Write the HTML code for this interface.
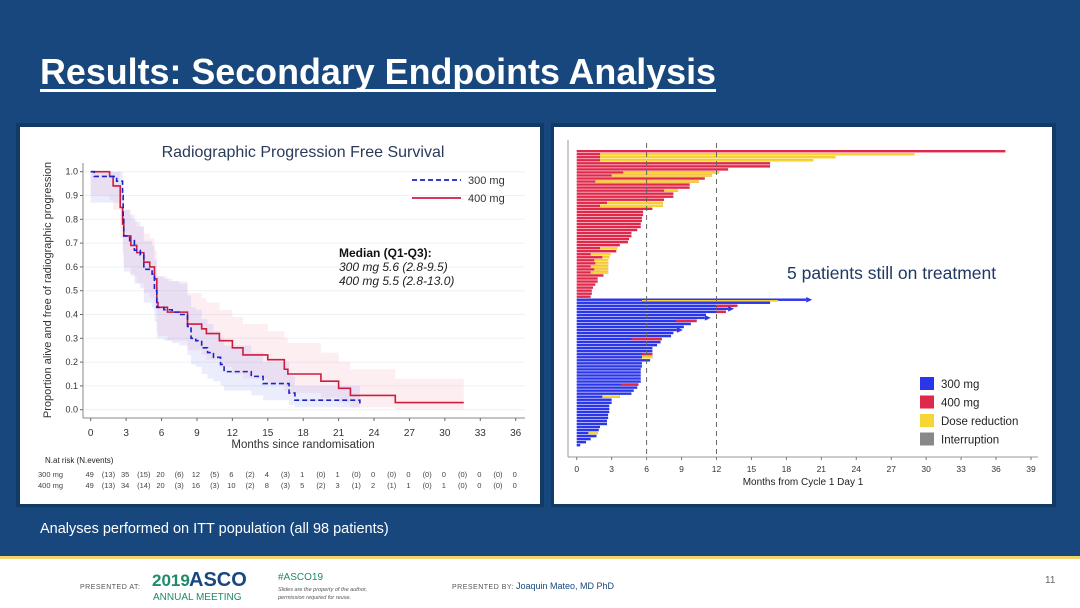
<!DOCTYPE html>
<html><head><meta charset="utf-8"><style>
html,body{margin:0;padding:0;width:1080px;height:608px;overflow:hidden;background:#fff}
svg{display:block;font-family:"Liberation Sans",sans-serif}
</style></head><body>
<svg id="s" width="1080" height="608" viewBox="0 0 1080 608">
<rect x="0" y="0" width="1080" height="556" fill="#17477c"/>
<rect x="0" y="556" width="1080" height="3" fill="#f3d36b"/>
<text x="40" y="84" fill="#fff" font-size="36" font-weight="bold" textLength="676" lengthAdjust="spacingAndGlyphs">Results: Secondary Endpoints Analysis</text>
<rect x="40" y="89" width="676" height="3" fill="#fff"/>
<rect x="16" y="123" width="528" height="384" fill="#123a66"/>
<rect x="20" y="127" width="520" height="377" fill="#fff"/>
<rect x="551" y="123" width="505" height="384" fill="#123a66"/>
<rect x="554" y="127" width="498" height="377" fill="#fff"/>
<g id="km"></g>
<g id="sw"></g>
<text x="40" y="533" fill="#fff" font-size="14.5">Analyses performed on ITT population (all 98 patients)</text>
<g>
<text x="80" y="589" font-size="7" fill="#555" letter-spacing="0.5">PRESENTED AT:</text>
<text x="152" y="586" font-size="17" font-weight="bold" fill="#1f8a6a">2019</text>
<text x="189" y="586" font-size="20" font-weight="bold" fill="#17477c">ASCO</text>
<text x="153" y="600" font-size="10" fill="#1f8a6a">ANNUAL MEETING</text>
<text x="278" y="580" font-size="10" fill="#1f8a6a">#ASCO19</text>
<text x="278" y="591" font-size="5.5" font-style="italic" fill="#555">Slides are the property of the author,</text>
<text x="278" y="599" font-size="5.5" font-style="italic" fill="#555">permission required for reuse.</text>
<text x="452" y="589" font-size="7" fill="#555" letter-spacing="0.5">PRESENTED BY:</text>
<text x="516" y="589" font-size="9" fill="#17477c">Joaquin Mateo, MD PhD</text>
<text x="1045" y="583" font-size="10" fill="#666">11</text>
</g>
</svg>
<script>
// ---------- KM data ----------
const kmXTicks = [0,3,6,9,12,15,18,21,24,27,30,33,36];
const kmYTicks = [0,0.1,0.2,0.3,0.4,0.5,0.6,0.7,0.8,0.9,1.0];
const t300 = [0,0.3,2.2,2.7,2.75,2.8,3.3,3.7,4.2,4.5,5.2,5.4,5.6,6.2,6.9,7.5,8.2,8.5,8.9,9.4,9.9,10.4,11.0,11.3,13.6,14.6,16.8,17.3,22.8];
const s300 = [1.0,0.98,0.96,0.9,0.8,0.73,0.71,0.67,0.65,0.59,0.57,0.5,0.43,0.42,0.41,0.4,0.35,0.3,0.29,0.26,0.24,0.22,0.19,0.16,0.14,0.11,0.07,0.04,0.02];
const lo300 = [0.87,0.87,0.87,0.78,0.66,0.58,0.57,0.53,0.51,0.45,0.43,0.37,0.3,0.29,0.28,0.27,0.23,0.19,0.18,0.15,0.13,0.12,0.1,0.08,0.06,0.04,0.02,0.01,0.01];
const hi300 = [1.0,1.0,1.0,0.97,0.9,0.84,0.82,0.79,0.77,0.71,0.69,0.63,0.56,0.55,0.54,0.53,0.48,0.43,0.42,0.38,0.36,0.33,0.3,0.27,0.24,0.2,0.14,0.1,0.1];
const t400 = [0,1.6,1.9,2.5,2.7,2.8,3.4,3.9,4.5,5.0,5.4,5.6,5.7,6.5,8.2,9.4,9.8,10.9,12.0,12.9,15.0,16.4,16.7,19.5,21.0,22.0,25.8,31.6];
const s400 = [1.0,0.98,0.94,0.85,0.78,0.73,0.69,0.66,0.62,0.6,0.55,0.45,0.43,0.41,0.36,0.34,0.32,0.29,0.26,0.23,0.21,0.17,0.15,0.12,0.09,0.06,0.03,0.03];
const lo400 = [0.9,0.88,0.84,0.72,0.65,0.6,0.56,0.53,0.49,0.47,0.42,0.33,0.31,0.29,0.25,0.23,0.21,0.18,0.15,0.13,0.11,0.08,0.07,0.05,0.03,0.01,0.0,0.0];
const hi400 = [1.0,1.0,1.0,0.93,0.88,0.84,0.8,0.77,0.74,0.72,0.67,0.58,0.56,0.54,0.49,0.47,0.45,0.42,0.39,0.36,0.33,0.3,0.28,0.24,0.2,0.17,0.13,0.13];
const risk300 = ["49","(13)","35","(15)","20","(6)","12","(5)","6","(2)","4","(3)","1","(0)","1","(0)","0","(0)","0","(0)","0","(0)","0","(0)","0"];
const risk400 = ["49","(13)","34","(14)","20","(3)","16","(3)","10","(2)","8","(3)","5","(2)","3","(1)","2","(1)","1","(0)","1","(0)","0","(0)","0"];

// ---------- swimmer data ----------
const swTicks = [0,3,6,9,12,15,18,21,24,27,30,33,36,39];
const red400 = [36.8,29,22.2,20.3,16.6,16.6,13,12.2,11.6,11,10.5,9.7,9.7,8.7,8.3,8.3,7.5,7.4,7.4,6.5,5.7,5.7,5.6,5.6,5.5,5.5,5.2,4.7,4.7,4.5,4.4,3.7,3.5,3.4,2.9,2.8,2.7,2.7,2.7,2.7,2.7,2.3,1.8,1.8,1.6,1.4,1.3,1.3,1.2];
const red400Dose = [null,2,2,2,null,null,null,4,3,null,1.6,null,null,7.5,null,null,null,2.6,2,null,null,null,null,null,null,null,null,null,null,null,null,null,2,null,1.2,2.2,1.5,1.6,1.2,1.5,1.2,null,null,null,null,null,null,null,null];
const blue300 = [19.7,16.6,13.8,13,12.8,11.1,11,10.3,9.8,9.2,8.6,8.3,8.1,7.3,7.2,6.9,6.5,6.5,6.5,6.5,6.3,5.6,5.6,5.5,5.5,5.5,5.5,5.5,5.3,5.2,4.9,4.7,3.7,3.0,3.0,2.8,2.8,2.8,2.7,2.7,2.6,2.6,2.0,1.9,1.8,1.7,1.2,0.8,0.3];
const blue300Dose = [5.6,null,null,null,null,null,null,null,null,null,null,null,null,null,null,null,null,null,null,5.6,null,null,null,null,null,null,null,null,null,null,null,null,2.2,null,null,null,null,null,null,null,null,null,null,null,1.0,null,null,null,null];
const blue300Esc = [null,null,12,null,12,null,null,8.5,null,null,null,null,null,4.7,null,null,null,null,5.6,null,null,null,null,null,null,null,null,null,3.8,null,null,null,null,null,null,null,null,null,null,null,null,null,null,null,null,null,null,null,null];
const ongoing300 = [true,false,false,true,false,false,true,false,false,false,true,false,false,false,false,false,false,false,false,false,false,false,false,false,false,false,false,false,false,false,false,false,false,false,false,false,false,false,false,false,false,false,false,false,false,false,false,false,false];

const NS='http://www.w3.org/2000/svg';
function mk(tag,attrs,parent,txt){const e=document.createElementNS(NS,tag);for(const k in attrs)e.setAttribute(k,attrs[k]);if(txt!==undefined)e.textContent=txt;parent.appendChild(e);return e;}

// ---------- KM chart ----------
const km=document.getElementById('km');
const kx=v=>90.7+v*(425/36);
const ky=v=>409.7-v*238;
let e;
e=mk('text',{x:303,y:157,'font-size':16,fill:'#2a3a5c','text-anchor':'middle'},km,'Radiographic Progression Free Survival');


kmYTicks.forEach(v=>{
  const g=mk('line',{x1:83,x2:525,y1:ky(v),y2:ky(v),stroke:'#eef0f4','stroke-width':1},km);
  
  
  const t=mk('text',{x:78,y:ky(v)+3,'font-size':9,fill:'#333','text-anchor':'end'},km,v.toFixed(1));
  
  
  mk('line',{x1:80,x2:83,y1:ky(v),y2:ky(v),stroke:'#666'},km);
});
e=mk('line',{x1:83,x2:83,y1:163,y2:418,stroke:'#888'},km);


e=mk('line',{x1:83,x2:525,y1:418,y2:418,stroke:'#888'},km);


kmXTicks.forEach(v=>{
  mk('line',{x1:kx(v),x2:kx(v),y1:418,y2:421,stroke:'#666'},km);
  const t=mk('text',{x:kx(v),y:436,'font-size':10,fill:'#333','text-anchor':'middle'},km,String(v));
  
  
});
e=mk('text',{x:303,y:448,'font-size':11.5,fill:'#333','text-anchor':'middle'},km,'Months since randomisation');


e=mk('text',{x:0,y:0,'font-size':11,fill:'#333','text-anchor':'middle',transform:'translate(51,290) rotate(-90)'},km,'Proportion alive and free of radiographic progression');


function band(t,lo,hi,fill,name){
  let up='',dn='';
  for(let i=0;i<t.length;i++){const x1=kx(t[i]),x2=kx(i+1<t.length?t[i+1]:t[i]);up+=`L${x1},${ky(hi[i])}L${x2},${ky(hi[i])}`;}
  for(let i=t.length-1;i>=0;i--){const x1=kx(t[i]),x2=kx(i+1<t.length?t[i+1]:t[i]);dn+=`L${x2},${ky(lo[i])}L${x1},${ky(lo[i])}`;}
  const p=mk('path',{d:'M'+up.slice(1)+dn+'Z',fill:fill},km);
  
  
}
band(t400,lo400,hi400,'rgba(240,150,175,0.16)','ci-band-400mg');
band(t300,lo300,hi300,'rgba(130,140,240,0.16)','ci-band-300mg');
function step(t,s){let d=`M${kx(t[0])},${ky(s[0])}`;for(let i=1;i<t.length;i++){d+=`H${kx(t[i])}V${ky(s[i])}`;}return d;}
e=mk('path',{d:step(t400,s400),fill:'none',stroke:'#d01c3c','stroke-width':1.6},km);


e=mk('path',{d:step(t300,s300),fill:'none',stroke:'#1c22c8','stroke-width':1.6,'stroke-dasharray':'5,3'},km);


e=mk('line',{x1:412,x2:461,y1:180,y2:180,stroke:'#1c22c8','stroke-width':1.8,'stroke-dasharray':'5,3'},km);


e=mk('text',{x:468,y:184,'font-size':11,fill:'#333'},km,'300 mg');


e=mk('line',{x1:412,x2:461,y1:198,y2:198,stroke:'#d01c3c','stroke-width':1.8},km);


e=mk('text',{x:468,y:202,'font-size':11,fill:'#333'},km,'400 mg');


e=mk('text',{x:339,y:257,'font-size':12,'font-weight':'bold',fill:'#111'},km,'Median (Q1-Q3):');


e=mk('text',{x:339,y:271,'font-size':12,'font-style':'italic',fill:'#222'},km,'300 mg 5.6 (2.8-9.5)');


e=mk('text',{x:339,y:285,'font-size':12,'font-style':'italic',fill:'#222'},km,'400 mg 5.5 (2.8-13.0)');


e=mk('text',{x:45,y:463,'font-size':8,fill:'#222'},km,'N.at risk (N.events)');


[[risk300,'300 mg',477],[risk400,'400 mg',488]].forEach(([arr,lab,y])=>{
  const l=mk('text',{x:38,y:y,'font-size':7.5,fill:'#444'},km,lab);
  
  
  arr.forEach((v,i)=>{
    const t=mk('text',{x:kx(i*1.5)+(i%2?0:-1),y:y,'font-size':7.5,fill:'#444','text-anchor':'middle'},km,v);
    
    
  });
});

// ---------- swimmer chart ----------
const sw=document.getElementById('sw');
const sx=v=>576.7+v*(454.3/39);
const rowH=297/98;
const rowY=i=>150+i*rowH;
const C={b:'#2b36e8',r:'#e0284a',y:'#f7d532',g:'#888'};
e=mk('line',{x1:568,x2:568,y1:140,y2:457,stroke:'#999'},sw);


e=mk('line',{x1:568,x2:1038,y1:457,y2:457,stroke:'#999'},sw);


swTicks.forEach(v=>{
  mk('line',{x1:sx(v),x2:sx(v),y1:457,y2:460,stroke:'#777'},sw);
  const t=mk('text',{x:sx(v),y:472,'font-size':8.5,fill:'#333','text-anchor':'middle'},sw,String(v));
  
  
});
e=mk('text',{x:803,y:485,'font-size':10,fill:'#222','text-anchor':'middle'},sw,'Months from Cycle 1 Day 1');


red400.forEach((v,i)=>{
  const y=rowY(i);
  const b=mk('rect',{x:sx(0),y:y,width:sx(v)-sx(0),height:rowH-0.6,fill:C.r},sw);
  
  
  if(red400Dose[i]!=null){
    const d=mk('rect',{x:sx(red400Dose[i]),y:y,width:sx(v)-sx(red400Dose[i]),height:rowH-0.6,fill:C.y},sw);
    
    
  }
});
blue300.forEach((v,i)=>{
  const y=rowY(49+i);
  const b=mk('rect',{x:sx(0),y:y,width:sx(v)-sx(0),height:rowH-0.6,fill:C.b},sw);
  
  
  if(blue300Dose[i]!=null){
    const end=i===0?17.3:v;
    const d=mk('rect',{x:sx(blue300Dose[i]),y:y+(i===0?rowH*0.5:0),width:sx(end)-sx(blue300Dose[i]),height:(i===0?rowH*0.6:rowH-0.6),fill:C.y},sw);
    
    
  }
  if(blue300Esc[i]!=null){
    const d=mk('rect',{x:sx(blue300Esc[i]),y:y,width:sx(v)-sx(blue300Esc[i]),height:rowH-0.6,fill:C.r},sw);
    
    
  }
  if(ongoing300[i]){
    const x=sx(v);
    const a=mk('path',{d:`M${x},${y-1.5}L${x+6},${y+1.2}L${x},${y+4}Z`,fill:C.b},sw);
    
    
  }
});
[6,12].forEach(v=>{
  const l=mk('line',{x1:sx(v),x2:sx(v),y1:143,y2:457,stroke:'#666','stroke-dasharray':'5,4'},sw);
  
  
});
e=mk('text',{x:787,y:279,'font-size':17.5,fill:'#1f3864'},sw,'5 patients still on treatment');


[['300 mg',C.b],['400 mg',C.r],['Dose reduction',C.y],['Interruption',C.g]].forEach(([lab,c],i)=>{
  const y=377+i*18.5;
  const r=mk('rect',{x:920,y:y,width:14,height:13,fill:c},sw);
  
  
  const t=mk('text',{x:941,y:y+11,'font-size':11.5,fill:'#222'},sw,lab);
  
  
});
</script>
</body></html>
